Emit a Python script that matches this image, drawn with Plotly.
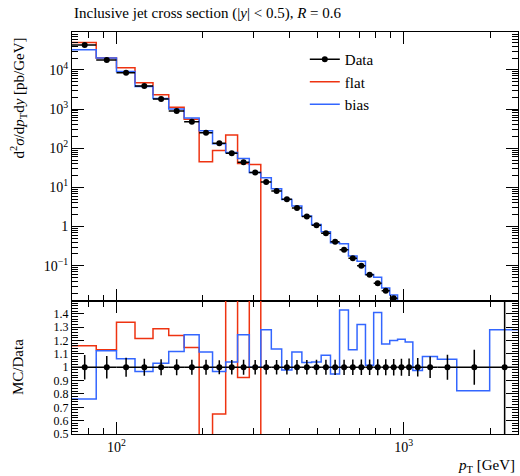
import numpy as np
import plotly.graph_objects as go
from plotly.subplots import make_subplots

# ---------------- data ----------------
pt_edges = [70, 85, 100, 116, 134, 152, 172, 194, 216, 240, 264, 290, 318, 346,
            376, 408, 442, 478, 516, 556, 598, 642, 688, 736, 786, 838, 894, 952,
            1012, 1076, 1162, 1310, 1530, 1992, 2500]

data_xsec = [43150, 17900, 8490, 3880, 1810, 895, 477, 250, 134, 74.5, 43.9, 23.9,
             13.8, 8.15, 5.0, 3.0, 1.80, 1.086, 0.679, 0.407, 0.255, 0.156, 0.0994,
             0.0586, 0.036, 0.0229, 0.0149, 0.0093, 0.0056, 0.0032, 0.00126,
             3.2e-4, 3.2e-5, 1e-6]

data_relerr = [0.092, 0.085, 0.071, 0.064, 0.060, 0.060, 0.056, 0.056, 0.053, 0.055,
               0.056, 0.055, 0.055, 0.055, 0.055, 0.055, 0.055, 0.056, 0.056, 0.057,
               0.057, 0.058, 0.058, 0.058, 0.060, 0.060, 0.062, 0.063, 0.065, 0.070,
               0.081, 0.094, 0.131, 0.700]

flat_over_data = [1.161, 1.131, 1.338, 1.216, 1.288, 1.238, 1.148, 0.18, 0.65, 2.9,
                  0.924, 1.6, 0, 0, 0, 0, 0, 0, 0, 0, 0, 0, 0, 0, 0, 0, 0, 0, 0, 0,
                  0, 0, 0, 0]

bias_over_data = [0.762, 1.123, 1.064, 0.969, 1.031, 1.118, 1.243, 1.114, 0.969, 1.039,
                  1.243, 1.0, 1.281, 1.136, 0.98, 1.114, 1.036, 1.04, 1.091, 0.949,
                  1.43, 1.131, 1.32, 1.016, 1.41, 1.174, 1.20, 1.21, 1.19, 0.976,
                  1.081, 1.061, 0.824, 1.281]

x_major = [100, 1000]
x_major_text = ["10<sup>2</sup>", "10<sup>3</sup>"]
x_minor = [80, 90, 200, 300, 400, 500, 600, 700, 800, 900, 2000]

y_major = [0.1, 1, 10, 100, 1000, 10000]
y_major_text = ["10<sup>\u22121</sup>", "1", "10<sup>1</sup>", "10<sup>2</sup>",
                "10<sup>3</sup>", "10<sup>4</sup>"]

r_major = [0.5, 0.6, 0.7, 0.8, 0.9, 1.0, 1.1, 1.2, 1.3, 1.4]
r_major_text = ["0.5", "0.6", "0.7", "0.8", "0.9", "1", "1.1", "1.2", "1.3", "1.4"]

# ---------------- derived arrays ----------------
edges = np.array(pt_edges, dtype=float)
lo, hi = edges[:-1], edges[1:]
centers = 0.5 * (lo + hi)
data = np.array(data_xsec)
rel = np.array(data_relerr)
flat_r = np.array(flat_over_data)
bias_r = np.array(bias_over_data)
flat = data * flat_r
bias = data * bias_r
flat_plot = np.where(flat > 0, flat, 1e-30)  # zero bins on log axis


def step(vals):
    v = list(vals)
    return v + [v[-1]]


RED = "#EE3311"
BLUE = "#3366FF"
FONT = "Liberation Serif"

fig = make_subplots(rows=2, cols=1, shared_xaxes=True, vertical_spacing=0,
                    row_heights=[0.668, 0.332])

# legend-only entry for data
fig.add_trace(go.Scatter(x=[None], y=[None], mode="lines+markers", name="Data",
                         line=dict(color="black", width=1.5),
                         marker=dict(color="black", size=6), legendrank=1),
              row=1, col=1)

fig.add_trace(go.Scatter(x=edges, y=step(flat_plot), mode="lines", name="flat",
                         line=dict(color=RED, width=1.5, shape="hv"), legendrank=2),
              row=1, col=1)
fig.add_trace(go.Scatter(x=edges, y=step(bias), mode="lines", name="bias",
                         line=dict(color=BLUE, width=1.5, shape="hv"), legendrank=3),
              row=1, col=1)
fig.add_trace(go.Scatter(x=centers, y=data, mode="markers", showlegend=False,
                         marker=dict(color="black", size=6),
                         error_x=dict(type="data", array=hi - centers,
                                      arrayminus=centers - lo, color="black",
                                      thickness=1.5, width=0),
                         error_y=dict(type="data", array=data * rel, color="black",
                                      thickness=1.5, width=0)),
              row=1, col=1)

# ratio panel
fig.add_trace(go.Scatter(x=edges, y=step(flat_r), mode="lines", showlegend=False,
                         line=dict(color=RED, width=1.5, shape="hv")), row=2, col=1)
fig.add_trace(go.Scatter(x=edges, y=step(bias_r), mode="lines", showlegend=False,
                         line=dict(color=BLUE, width=1.5, shape="hv")), row=2, col=1)
fig.add_trace(go.Scatter(x=centers, y=np.ones_like(centers), mode="markers",
                         showlegend=False, marker=dict(color="black", size=6),
                         error_x=dict(type="data", array=hi - centers,
                                      arrayminus=centers - lo, color="black",
                                      thickness=1.5, width=0),
                         error_y=dict(type="data", array=rel, color="black",
                                      thickness=1.5, width=0)),
              row=2, col=1)

axis_common = dict(showline=True, linecolor="black", linewidth=1, mirror="ticks",
                   ticks="inside", tickcolor="black", tickwidth=1, ticklen=12,
                   showgrid=False, zeroline=False)

xr = [np.log10(pt_edges[0]), np.log10(pt_edges[-1])]
fig.update_xaxes(type="log", range=xr, tickmode="array", tickvals=x_major,
                 ticktext=x_major_text,
                 tickfont=dict(family=FONT, size=14, color="black"),
                 minor=dict(tickmode="array", tickvals=x_minor, ticks="inside",
                            ticklen=6, tickcolor="black", tickwidth=1),
                 **axis_common)
fig.update_xaxes(showticklabels=False, row=1, col=1)
fig.update_xaxes(showticklabels=True, row=2, col=1)

y_minor = [k * 10.0 ** n for n in range(-2, 5) for k in range(2, 10)]
fig.update_yaxes(type="log", range=[-1.888, 4.967], tickmode="array",
                 tickvals=y_major, ticktext=y_major_text,
                 tickfont=dict(family=FONT, size=14, color="black"),
                 minor=dict(tickmode="array", tickvals=y_minor, ticks="inside",
                            ticklen=6, tickcolor="black", tickwidth=1),
                 row=1, col=1, **axis_common)
fig.update_yaxes(range=[0.5, 1.5], tickmode="array", tickvals=r_major,
                 ticktext=r_major_text,
                 tickfont=dict(family=FONT, size=12, color="black"),
                 minor=dict(tickmode="array",
                            tickvals=[round(0.5 + 0.02 * i, 2) for i in range(51)],
                            ticks="inside", ticklen=6, tickcolor="black", tickwidth=1),
                 row=2, col=1, **axis_common)

fig.update_layout(
    width=520, height=476,
    margin=dict(l=72, r=2, t=32, b=42),
    paper_bgcolor="white", plot_bgcolor="white",
    font=dict(family=FONT, size=14, color="black"),
    showlegend=True,
    legend=dict(x=0.522, y=0.9726, xanchor="left", yanchor="top",
                bgcolor="rgba(0,0,0,0)", font=dict(family=FONT, size=15),
                tracegroupgap=0),
    annotations=[
        dict(text="Inclusive jet cross section (|<i>y</i>| &lt; 0.5), <i>R</i> = 0.6",
             xref="paper", yref="paper", x=0, y=1.0448, xanchor="left",
             yanchor="middle", showarrow=False, font=dict(family=FONT, size=15)),
        dict(text="d<sup>2</sup><i>\u03c3</i>/d<i>p</i><sub>T</sub>d<i>y</i> [pb/GeV]",
             xref="paper", yref="paper", x=-0.121, y=0.99, xanchor="center",
             yanchor="top", textangle=-90, showarrow=False,
             font=dict(family=FONT, size=15)),
        dict(text="MC/Data", xref="paper", yref="paper", x=-0.121, y=0.1667,
             xanchor="center", yanchor="middle", textangle=-90, showarrow=False,
             font=dict(family=FONT, size=15)),
        dict(text="<i>p</i><sub>T</sub> [GeV]", xref="paper", yref="paper",
             x=0.998, y=-0.0796, xanchor="right", yanchor="middle",
             showarrow=False, font=dict(family=FONT, size=15)),
    ],
)

fig.write_html("out.html")
